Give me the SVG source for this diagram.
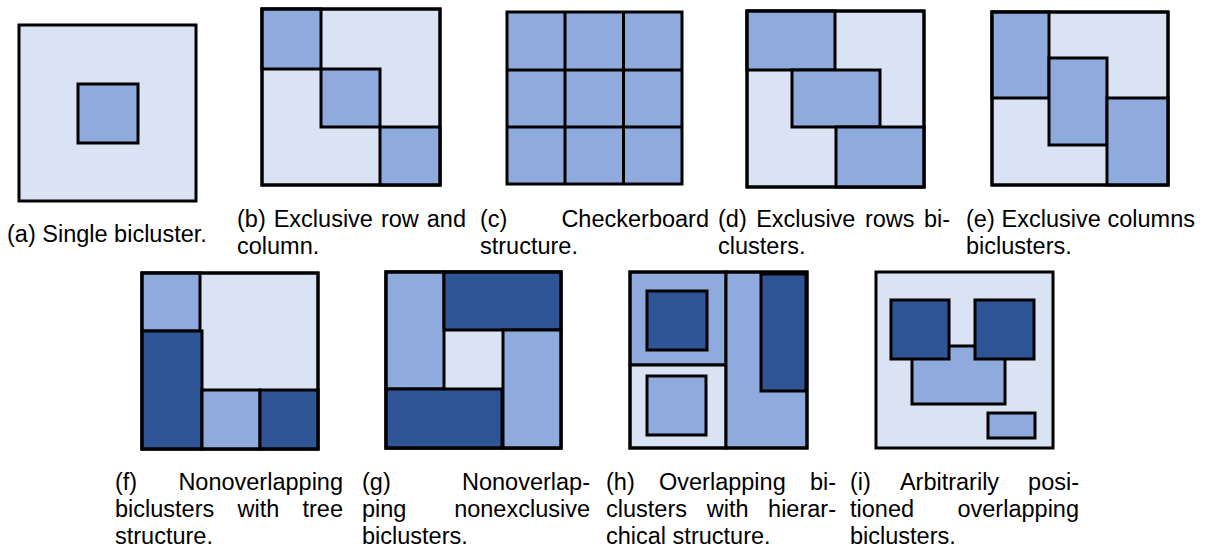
<svg xmlns="http://www.w3.org/2000/svg" width="1206" height="553" viewBox="0 0 1206 553">
<style>
rect{stroke:#000;stroke-width:3}
.l{fill:#dae3f3}
.m{fill:#8faadc}
.d{fill:#2f5597}
.o{fill:none}
line{stroke:#000;stroke-width:3}
text{font-family:"Liberation Sans",Arial,sans-serif;font-size:23.5px;fill:#000}
</style>
<g id="a">
<rect class="l" x="19" y="25" width="177" height="176"/>
<rect class="m" x="78" y="84" width="60" height="59"/>
<text x="7" y="242">(a) Single bicluster.</text>
</g>
<g id="b">
<rect class="l" x="262" y="9" width="178" height="176"/>
<rect class="m" x="262" y="9" width="59" height="60"/>
<rect class="m" x="321" y="69" width="59" height="58"/>
<rect class="m" x="380" y="127" width="60" height="58"/>
<rect class="o" x="262" y="9" width="178" height="176"/>
<text y="227"><tspan x="237">(b)</tspan><tspan x="273.7">Exclusive</tspan><tspan x="380.9">row</tspan><tspan x="466" text-anchor="end">and</tspan></text>
<text x="237" y="254">column.</text>
</g>
<g id="c">
<rect class="m" x="507" y="12" width="175" height="172"/>
<line x1="565" y1="12" x2="565" y2="184"/>
<line x1="623.5" y1="12" x2="623.5" y2="184"/>
<line x1="507" y1="70" x2="682" y2="70"/>
<line x1="507" y1="127" x2="682" y2="127"/>
<text y="227"><tspan x="480">(c)</tspan><tspan x="709" text-anchor="end">Checkerboard</tspan></text>
<text x="480" y="254">structure.</text>
</g>
<g id="d">
<rect class="l" x="747" y="11" width="177" height="176"/>
<rect class="m" x="747" y="11" width="88" height="59"/>
<rect class="m" x="792" y="70" width="88" height="57"/>
<rect class="m" x="836" y="127" width="88" height="60"/>
<rect class="o" x="747" y="11" width="177" height="176"/>
<text y="227"><tspan x="718">(d)</tspan><tspan x="756.2">Exclusive</tspan><tspan x="864.9">rows</tspan><tspan x="950" text-anchor="end">bi-</tspan></text>
<text x="718" y="254">clusters.</text>
</g>
<g id="e">
<rect class="l" x="992" y="12" width="176" height="173"/>
<rect class="m" x="992" y="12" width="57" height="86"/>
<rect class="m" x="1049" y="58" width="58" height="87"/>
<rect class="m" x="1107" y="98" width="61" height="87"/>
<rect class="o" x="992" y="12" width="176" height="173"/>
<text y="227"><tspan x="966">(e)</tspan><tspan x="1001.5">Exclusive</tspan><tspan x="1195" text-anchor="end">columns</tspan></text>
<text x="966" y="254">biclusters.</text>
</g>
<g id="f">
<rect class="l" x="142" y="273" width="176" height="176"/>
<rect class="m" x="142" y="273" width="58" height="58"/>
<rect class="d" x="142" y="331" width="60" height="118"/>
<rect class="m" x="202" y="390" width="58" height="59"/>
<rect class="d" x="260" y="390" width="58" height="59"/>
<rect class="o" x="142" y="273" width="176" height="176"/>
<text y="490"><tspan x="115">(f)</tspan><tspan x="343" text-anchor="end">Nonoverlapping</tspan></text>
<text y="517"><tspan x="115">biclusters</tspan><tspan x="237.5">with</tspan><tspan x="343" text-anchor="end">tree</tspan></text>
<text x="115" y="544">structure.</text>
</g>
<g id="g">
<rect class="l" x="386" y="272" width="175" height="176"/>
<rect class="m" x="386" y="272" width="58" height="117"/>
<rect class="d" x="444" y="272" width="117" height="58"/>
<rect class="m" x="503" y="330" width="58" height="118"/>
<rect class="d" x="386" y="389" width="116" height="59"/>
<rect class="o" x="386" y="272" width="175" height="176"/>
<text y="490"><tspan x="362">(g)</tspan><tspan x="590" text-anchor="end">Nonoverlap-</tspan></text>
<text y="517"><tspan x="362">ping</tspan><tspan x="590" text-anchor="end">nonexclusive</tspan></text>
<text x="362" y="544">biclusters.</text>
</g>
<g id="h">
<rect class="m" x="630" y="272" width="96" height="93"/>
<rect class="l" x="630" y="365" width="96" height="83"/>
<rect class="m" x="726" y="272" width="81" height="176"/>
<rect class="d" x="647" y="291" width="60" height="59"/>
<rect class="m" x="647" y="376" width="59" height="59"/>
<rect class="d" x="761" y="274" width="45" height="117"/>
<rect class="o" x="630" y="272" width="177" height="176"/>
<text y="490"><tspan x="606">(h)</tspan><tspan x="659">Overlapping</tspan><tspan x="836" text-anchor="end">bi-</tspan></text>
<text y="517"><tspan x="606">clusters</tspan><tspan x="706.7">with</tspan><tspan x="836" text-anchor="end">hierar-</tspan></text>
<text x="606" y="544">chical structure.</text>
</g>
<g id="i">
<rect class="l" x="876" y="272" width="177" height="176"/>
<rect class="m" x="912" y="346" width="93" height="58"/>
<rect class="d" x="891" y="300" width="58" height="59"/>
<rect class="d" x="975" y="300" width="59" height="59"/>
<rect class="m" x="988" y="413" width="47" height="25"/>
<text y="490"><tspan x="850">(i)</tspan><tspan x="899.9">Arbitrarily</tspan><tspan x="1079" text-anchor="end">posi-</tspan></text>
<text y="517"><tspan x="850">tioned</tspan><tspan x="1079" text-anchor="end">overlapping</tspan></text>
<text x="850" y="544">biclusters.</text>
</g>
<g id="connectors"></g>
</svg>
